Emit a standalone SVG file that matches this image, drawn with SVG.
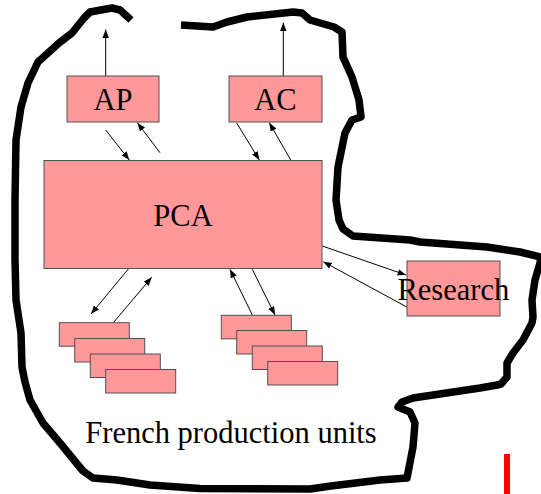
<svg xmlns="http://www.w3.org/2000/svg" width="541" height="494" viewBox="0 0 541 494">
  <style>
    .box { fill: #ff9999; stroke: #505050; stroke-width: 1; }
    .lbl { font-family: 'Liberation Serif', 'Times New Roman', Tinos, 'Noto Serif', 'DejaVu Serif', serif; font-size: 30.5px; fill: #000; text-anchor: middle; }
    .link { stroke: #000; stroke-width: 1; fill: none; }
    .border { fill: none; stroke: #000; stroke-width: 7.5; stroke-linejoin: round; stroke-linecap: butt; }
  </style>
  <defs>
    <marker id="arrow" markerUnits="userSpaceOnUse" markerWidth="9" markerHeight="7" refX="8.5" refY="3.25" orient="auto">
      <path d="M0,0 L8.5,3.25 L0,6.5 z" fill="#000"/>
    </marker>
  </defs>

  <rect width="541" height="494" fill="#fff"/>

  <!-- hand-drawn boundary of the territory -->
  <path class="border" d="M131,20 L120,10 L112,8 L90,12 L84,18 L72,33 L59,43 L38,62 L28,83 L21,107 L16,140 L15,200 L15,260 L16,300 L21,333 L22,367 L25,382 L30,400 L43,423 L60,443 L83,471 L93,478 L117,480 L150,485 L200,488.5 L310,489 L331,486 L380,480 L407,478 L413,447 L415,423 L410,412 L398,407 L402,402 L413,398 L480,388 L497,385 L501,384 L507,377 L507,363 L513,353 L523,340 L532,323 L533,317 L532,300 L535,280 L540,263 L541,257 L520,252 L487,247 L420,242 L410,240 L353,236 L343,229 L339,220 L336,200 L338,167 L345,133 L352,120 L361,117 L359,100 L352,77 L343,57 L342,32 L334,27 L310,20 L302,13 L293,12 L247,17 L227,22 L213,27 L181,25"/>

  <!-- connectors -->
  <g id="connectors">
    <line class="link" x1="105.7" y1="76" x2="105.7" y2="29.5" marker-end="url(#arrow)"/>
    <line class="link" x1="283.3" y1="76" x2="283.3" y2="22.7" marker-end="url(#arrow)"/>
    <line class="link" x1="105.7" y1="130" x2="129.3" y2="160" marker-end="url(#arrow)"/>
    <line class="link" x1="160" y1="152.7" x2="137.3" y2="122.7" marker-end="url(#arrow)"/>
    <line class="link" x1="236.7" y1="123" x2="259.3" y2="160" marker-end="url(#arrow)"/>
    <line class="link" x1="290.7" y1="160" x2="269.3" y2="122.7" marker-end="url(#arrow)"/>
    <line class="link" x1="322.3" y1="246" x2="406" y2="275" marker-end="url(#arrow)"/>
    <line class="link" x1="407.3" y1="307.3" x2="323.3" y2="261.7" marker-end="url(#arrow)"/>
    <line class="link" x1="128.3" y1="269" x2="91" y2="314" marker-end="url(#arrow)"/>
    <line class="link" x1="113.3" y1="322.7" x2="151.7" y2="277.3" marker-end="url(#arrow)"/>
    <line class="link" x1="252.3" y1="315" x2="230" y2="269.3" marker-end="url(#arrow)"/>
    <line class="link" x1="252.3" y1="269.3" x2="275" y2="315" marker-end="url(#arrow)"/>
  </g>

  <g id="AP">
    <rect class="box" x="67" y="76" width="92" height="46"/>
    <text class="lbl" x="113" y="110">AP</text>
  </g>
  <g id="AC">
    <rect class="box" x="229" y="76" width="93" height="46"/>
    <text class="lbl" x="275.5" y="110">AC</text>
  </g>
  <g id="PCA">
    <rect class="box" x="44" y="160.5" width="278" height="108"/>
    <text class="lbl" x="183" y="226">PCA</text>
  </g>
  <g id="Research">
    <rect class="box" x="407" y="261" width="93" height="55"/>
    <text class="lbl" x="453.3" y="300">Research</text>
  </g>
  <g id="units-west">
    <rect class="box" x="59.3" y="322.7" width="70" height="23.5"/>
    <rect class="box" x="74.7" y="338.5" width="70" height="23.5"/>
    <rect class="box" x="90.3" y="354" width="70" height="23.5"/>
    <rect class="box" x="105.7" y="369.5" width="70" height="23.5"/>
  </g>
  <g id="units-east">
    <rect class="box" x="221.3" y="315.3" width="70" height="23.5"/>
    <rect class="box" x="236.7" y="330.5" width="70" height="23.5"/>
    <rect class="box" x="252.3" y="346" width="70" height="23.5"/>
    <rect class="box" x="267.7" y="361.5" width="70" height="23.5"/>
  </g>

  <text id="territory-label" class="lbl" x="231" y="443">French production units</text>

  <rect x="504" y="454" width="6" height="40" fill="#ff0000"/>
</svg>
